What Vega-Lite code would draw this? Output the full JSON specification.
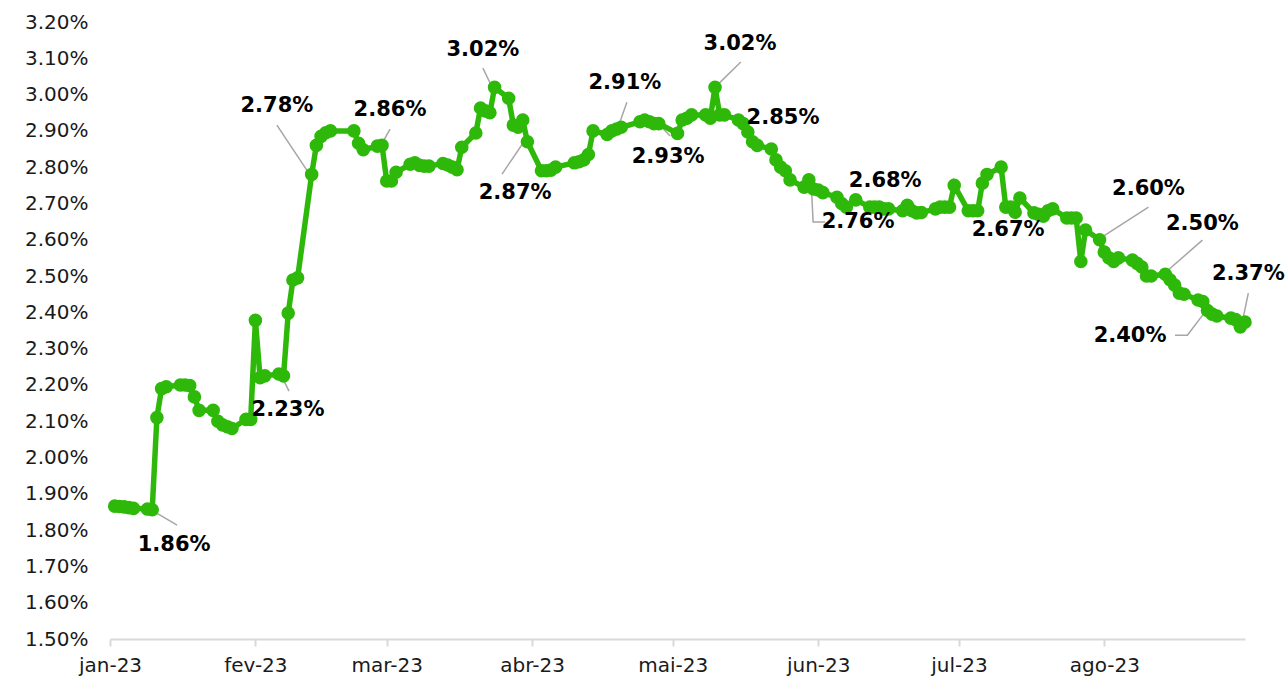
{
  "$schema": "https://vega.github.io/schema/vega-lite/v6.json",
  "autosize": "none",
  "padding": {"left": 110, "top": 22, "right": 41, "bottom": 43},
  "width": 1135,
  "height": 617,
  "background": "white",
  "config": {"view": {"stroke": null}},
  "datasets": {
    "s": [
      {"d":"2023-01-02","v":1.866},{"d":"2023-01-03","v":1.865},{"d":"2023-01-04","v":1.864},{"d":"2023-01-05","v":1.862},{"d":"2023-01-06","v":1.860},
      {"d":"2023-01-09","v":1.858},{"d":"2023-01-10","v":1.856},{"d":"2023-01-11","v":2.110},{"d":"2023-01-12","v":2.190},{"d":"2023-01-13","v":2.195},
      {"d":"2023-01-16","v":2.200},{"d":"2023-01-17","v":2.200},{"d":"2023-01-18","v":2.198},{"d":"2023-01-19","v":2.167},{"d":"2023-01-20","v":2.130},
      {"d":"2023-01-23","v":2.130},{"d":"2023-01-24","v":2.100},{"d":"2023-01-25","v":2.090},{"d":"2023-01-26","v":2.085},{"d":"2023-01-27","v":2.080},
      {"d":"2023-01-30","v":2.105},{"d":"2023-01-31","v":2.105},
      {"d":"2023-02-01","v":2.378},{"d":"2023-02-02","v":2.220},{"d":"2023-02-03","v":2.225},{"d":"2023-02-06","v":2.230},{"d":"2023-02-07","v":2.225},
      {"d":"2023-02-08","v":2.398},{"d":"2023-02-09","v":2.489},{"d":"2023-02-10","v":2.495},{"d":"2023-02-13","v":2.780},{"d":"2023-02-14","v":2.860},
      {"d":"2023-02-15","v":2.885},{"d":"2023-02-16","v":2.895},{"d":"2023-02-17","v":2.900},{"d":"2023-02-22","v":2.900},{"d":"2023-02-23","v":2.866},
      {"d":"2023-02-24","v":2.848},{"d":"2023-02-27","v":2.858},{"d":"2023-02-28","v":2.860},
      {"d":"2023-03-01","v":2.762},{"d":"2023-03-02","v":2.762},{"d":"2023-03-03","v":2.786},{"d":"2023-03-06","v":2.808},{"d":"2023-03-07","v":2.812},
      {"d":"2023-03-08","v":2.805},{"d":"2023-03-09","v":2.803},{"d":"2023-03-10","v":2.803},{"d":"2023-03-13","v":2.810},{"d":"2023-03-14","v":2.806},
      {"d":"2023-03-15","v":2.800},{"d":"2023-03-16","v":2.793},{"d":"2023-03-17","v":2.855},{"d":"2023-03-20","v":2.894},{"d":"2023-03-21","v":2.963},
      {"d":"2023-03-22","v":2.955},{"d":"2023-03-23","v":2.950},{"d":"2023-03-24","v":3.020},{"d":"2023-03-27","v":2.990},{"d":"2023-03-28","v":2.916},
      {"d":"2023-03-29","v":2.910},{"d":"2023-03-30","v":2.930},{"d":"2023-03-31","v":2.870},
      {"d":"2023-04-03","v":2.790},{"d":"2023-04-04","v":2.790},{"d":"2023-04-05","v":2.792},{"d":"2023-04-06","v":2.800},{"d":"2023-04-10","v":2.812},
      {"d":"2023-04-11","v":2.815},{"d":"2023-04-12","v":2.820},{"d":"2023-04-13","v":2.835},{"d":"2023-04-14","v":2.900},{"d":"2023-04-17","v":2.890},
      {"d":"2023-04-18","v":2.900},{"d":"2023-04-19","v":2.905},{"d":"2023-04-20","v":2.910},{"d":"2023-04-24","v":2.925},{"d":"2023-04-25","v":2.930},
      {"d":"2023-04-26","v":2.925},{"d":"2023-04-27","v":2.920},{"d":"2023-04-28","v":2.920},
      {"d":"2023-05-02","v":2.893},{"d":"2023-05-03","v":2.930},{"d":"2023-05-04","v":2.935},{"d":"2023-05-05","v":2.944},{"d":"2023-05-08","v":2.944},
      {"d":"2023-05-09","v":2.935},{"d":"2023-05-10","v":3.020},{"d":"2023-05-11","v":2.944},{"d":"2023-05-12","v":2.944},{"d":"2023-05-15","v":2.930},
      {"d":"2023-05-16","v":2.920},{"d":"2023-05-17","v":2.897},{"d":"2023-05-18","v":2.870},{"d":"2023-05-19","v":2.860},{"d":"2023-05-22","v":2.850},
      {"d":"2023-05-23","v":2.820},{"d":"2023-05-24","v":2.800},{"d":"2023-05-25","v":2.790},{"d":"2023-05-26","v":2.765},{"d":"2023-05-29","v":2.745},
      {"d":"2023-05-30","v":2.765},{"d":"2023-05-31","v":2.740},
      {"d":"2023-06-01","v":2.737},{"d":"2023-06-02","v":2.730},{"d":"2023-06-05","v":2.717},{"d":"2023-06-06","v":2.700},{"d":"2023-06-07","v":2.690},
      {"d":"2023-06-09","v":2.710},{"d":"2023-06-12","v":2.690},{"d":"2023-06-13","v":2.690},{"d":"2023-06-14","v":2.690},{"d":"2023-06-15","v":2.685},
      {"d":"2023-06-16","v":2.685},{"d":"2023-06-19","v":2.680},{"d":"2023-06-20","v":2.695},{"d":"2023-06-21","v":2.680},{"d":"2023-06-22","v":2.674},
      {"d":"2023-06-23","v":2.675},{"d":"2023-06-26","v":2.685},{"d":"2023-06-27","v":2.690},{"d":"2023-06-28","v":2.690},{"d":"2023-06-29","v":2.690},
      {"d":"2023-06-30","v":2.750},
      {"d":"2023-07-03","v":2.680},{"d":"2023-07-04","v":2.680},{"d":"2023-07-05","v":2.680},{"d":"2023-07-06","v":2.756},{"d":"2023-07-07","v":2.780},
      {"d":"2023-07-10","v":2.800},{"d":"2023-07-11","v":2.690},{"d":"2023-07-12","v":2.690},{"d":"2023-07-13","v":2.676},{"d":"2023-07-14","v":2.715},
      {"d":"2023-07-17","v":2.674},{"d":"2023-07-18","v":2.670},{"d":"2023-07-19","v":2.665},{"d":"2023-07-20","v":2.680},{"d":"2023-07-21","v":2.685},
      {"d":"2023-07-24","v":2.660},{"d":"2023-07-25","v":2.660},{"d":"2023-07-26","v":2.660},{"d":"2023-07-27","v":2.540},{"d":"2023-07-28","v":2.627},
      {"d":"2023-07-31","v":2.600},
      {"d":"2023-08-01","v":2.566},{"d":"2023-08-02","v":2.550},{"d":"2023-08-03","v":2.540},{"d":"2023-08-04","v":2.550},{"d":"2023-08-07","v":2.544},
      {"d":"2023-08-08","v":2.535},{"d":"2023-08-09","v":2.525},{"d":"2023-08-10","v":2.500},{"d":"2023-08-11","v":2.500},{"d":"2023-08-14","v":2.505},
      {"d":"2023-08-15","v":2.490},{"d":"2023-08-16","v":2.475},{"d":"2023-08-17","v":2.453},{"d":"2023-08-18","v":2.450},{"d":"2023-08-21","v":2.434},
      {"d":"2023-08-22","v":2.430},{"d":"2023-08-23","v":2.405},{"d":"2023-08-24","v":2.395},{"d":"2023-08-25","v":2.390},{"d":"2023-08-28","v":2.384},
      {"d":"2023-08-29","v":2.380},{"d":"2023-08-30","v":2.360},{"d":"2023-08-31","v":2.373}
    ],
    "leaders": [
      {"id":1,"o":0,"d":"2023-01-09T13:00:00Z","v":1.858},{"id":1,"o":1,"d":"2023-01-15T07:00:00Z","v":1.814},
      {"id":2,"o":0,"d":"2023-02-06T16:00:00Z","v":2.222},{"id":2,"o":1,"d":"2023-02-08T04:00:00Z","v":2.183},
      {"id":3,"o":0,"d":"2023-02-05T14:00:00Z","v":2.916},{"id":3,"o":1,"d":"2023-02-12T05:00:00Z","v":2.787},
      {"id":4,"o":0,"d":"2023-03-01T17:00:00Z","v":2.905},{"id":4,"o":1,"d":"2023-02-27T19:00:00Z","v":2.861},
      {"id":5,"o":0,"d":"2023-03-21T12:00:00Z","v":3.073},{"id":5,"o":1,"d":"2023-03-23T11:00:00Z","v":3.021},
      {"id":6,"o":0,"d":"2023-03-25T14:00:00Z","v":2.781},{"id":6,"o":1,"d":"2023-03-30T01:00:00Z","v":2.866},
      {"id":7,"o":0,"d":"2023-04-21T05:00:00Z","v":2.979},{"id":7,"o":1,"d":"2023-04-19T12:00:00Z","v":2.916},
      {"id":8,"o":0,"d":"2023-04-27T15:00:00Z","v":2.924},{"id":8,"o":1,"d":"2023-04-30T10:00:00Z","v":2.886},
      {"id":9,"o":0,"d":"2023-05-15T12:00:00Z","v":3.090},{"id":9,"o":1,"d":"2023-05-09T14:00:00Z","v":3.015},
      {"id":11,"o":0,"d":"2023-05-30T12:00:00Z","v":2.759},{"id":11,"o":1,"d":"2023-05-30T22:00:00Z","v":2.649},{"id":11,"o":2,"d":"2023-06-02T12:00:00Z","v":2.649},
      {"id":14,"o":0,"d":"2023-07-30T12:00:00Z","v":2.599},{"id":14,"o":1,"d":"2023-08-10T10:00:00Z","v":2.690},
      {"id":15,"o":0,"d":"2023-08-13T10:00:00Z","v":2.503},{"id":15,"o":1,"d":"2023-08-21T22:00:00Z","v":2.599},
      {"id":16,"o":0,"d":"2023-08-22T07:00:00Z","v":2.398},{"id":16,"o":1,"d":"2023-08-18T17:00:00Z","v":2.337},{"id":16,"o":2,"d":"2023-08-16T02:00:00Z","v":2.337},
      {"id":17,"o":0,"d":"2023-08-31T17:00:00Z","v":2.453},{"id":17,"o":1,"d":"2023-08-30T10:00:00Z","v":2.373}
    ],
    "labels": [
      {"t":"1.86%","d":"2023-01-14T16:00:00Z","v":1.759},
      {"t":"2.23%","d":"2023-02-07T23:00:00Z","v":2.131},
      {"t":"2.78%","d":"2023-02-05T14:00:00Z","v":2.968},
      {"t":"2.86%","d":"2023-03-01T17:00:00Z","v":2.957},
      {"t":"3.02%","d":"2023-03-21T12:00:00Z","v":3.123},
      {"t":"2.87%","d":"2023-03-28T09:00:00Z","v":2.729},
      {"t":"2.91%","d":"2023-04-20T19:00:00Z","v":3.032},
      {"t":"2.93%","d":"2023-04-30T00:00:00Z","v":2.828},
      {"t":"3.02%","d":"2023-05-15T08:00:00Z","v":3.139},
      {"t":"2.85%","d":"2023-05-24T12:00:00Z","v":2.935},
      {"t":"2.76%","d":"2023-06-09T12:00:00Z","v":2.649},
      {"t":"2.68%","d":"2023-06-15T07:00:00Z","v":2.762},
      {"t":"2.67%","d":"2023-07-11T12:00:00Z","v":2.627},
      {"t":"2.60%","d":"2023-08-10T10:00:00Z","v":2.740},
      {"t":"2.50%","d":"2023-08-21T22:00:00Z","v":2.643},
      {"t":"2.40%","d":"2023-08-06T12:00:00Z","v":2.335},
      {"t":"2.37%","d":"2023-08-31T17:00:00Z","v":2.506}
    ]
  },
  "encoding": {
    "x": {
      "field": "d", "type": "temporal", "title": null,
      "scale": {"type": "utc", "domain": [{"year":2023,"month":1,"date":1,"utc":true},{"year":2023,"month":8,"date":31,"utc":true}]},
      "axis": {
        "values": [
          {"year":2023,"month":1,"date":1,"utc":true},{"year":2023,"month":2,"date":1,"utc":true},
          {"year":2023,"month":3,"date":1,"utc":true},{"year":2023,"month":4,"date":1,"utc":true},
          {"year":2023,"month":5,"date":1,"utc":true},{"year":2023,"month":6,"date":1,"utc":true},
          {"year":2023,"month":7,"date":1,"utc":true},{"year":2023,"month":8,"date":1,"utc":true}
        ],
        "labelExpr": "['jan','fev','mar','abr','mai','jun','jul','ago','set','out','nov','dez'][utcmonth(datum.value)] + '-' + utcFormat(datum.value, '%y')",
        "grid": false,
        "domainColor": "#d9d9d9", "domainWidth": 2,
        "tickColor": "#d9d9d9", "tickWidth": 2, "tickSize": 7,
        "labelFont": "DejaVu Sans", "labelFontSize": 20, "labelColor": "#1a1a1a",
        "labelPadding": 9, "labelFlush": false, "labelOverlap": false
      }
    },
    "y": {
      "field": "v", "type": "quantitative", "title": null,
      "scale": {"domain": [1.5, 3.2], "nice": false, "zero": false},
      "axis": {
        "values": [1.5,1.6,1.7,1.8,1.9,2.0,2.1,2.2,2.3,2.4,2.5,2.6,2.7,2.8,2.9,3.0,3.1,3.2],
        "labelExpr": "format(datum.value, '.2f') + '%'",
        "grid": false, "domain": false, "ticks": false,
        "labelFont": "DejaVu Sans", "labelFontSize": 20, "labelColor": "#1a1a1a",
        "labelPadding": 22, "labelOverlap": false
      }
    }
  },
  "layer": [
    {
      "data": {"name": "leaders"},
      "mark": {"type": "line", "color": "#a6a6a6", "strokeWidth": 1.5},
      "encoding": {"detail": {"field": "id"}, "order": {"field": "o"}}
    },
    {
      "data": {"name": "s"},
      "mark": {"type": "line", "color": "#2eb90a", "strokeWidth": 5.5, "point": {"filled": true, "size": 185, "color": "#2eb90a"}}
    },
    {
      "data": {"name": "labels"},
      "mark": {"type": "text", "font": "DejaVu Sans", "fontWeight": "bold", "fontSize": 21, "color": "#000000", "align": "center", "baseline": "middle"},
      "encoding": {"text": {"field": "t"}}
    }
  ]
}
